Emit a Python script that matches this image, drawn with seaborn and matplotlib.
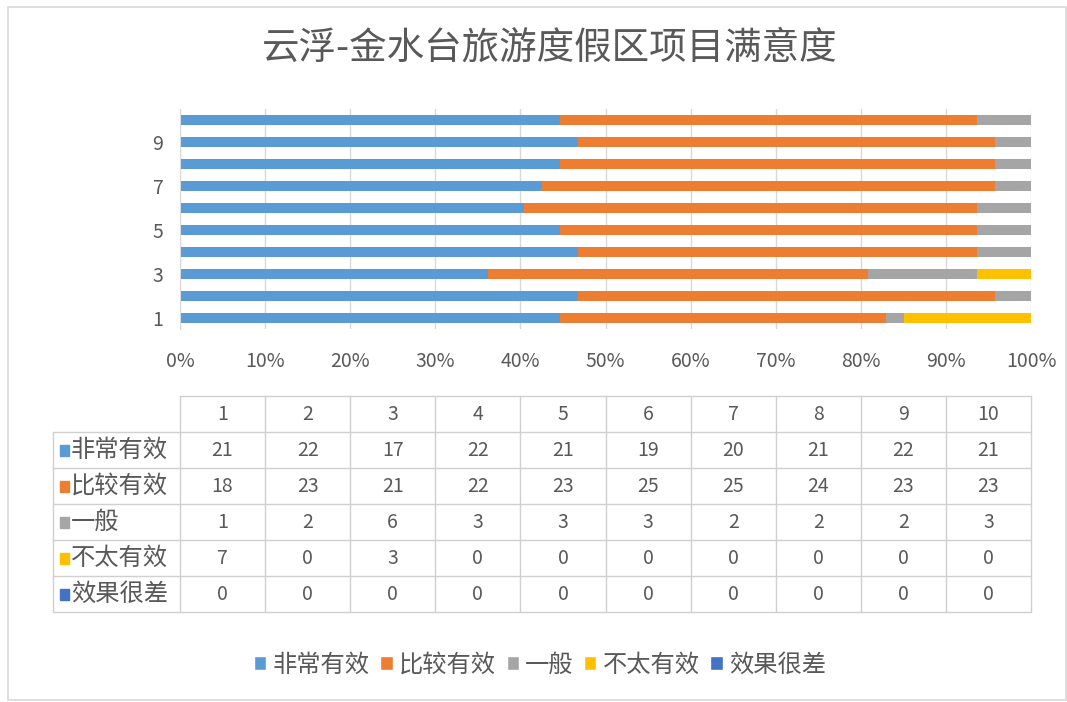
import pandas as pd
import seaborn as sns
import matplotlib.pyplot as plt
from matplotlib.patches import Patch, Rectangle

projects = ["1", "2", "3", "4", "5", "6", "7", "8", "9", "10"]
series_names = ["非常有效", "比较有效", "一般", "不太有效", "效果很差"]
very_effective = [21, 22, 17, 22, 21, 19, 20, 21, 22, 21]
fairly_effective = [18, 23, 21, 22, 23, 25, 25, 24, 23, 23]
average = [1, 2, 6, 3, 3, 3, 2, 2, 2, 3]
not_very_effective = [7, 0, 3, 0, 0, 0, 0, 0, 0, 0]
very_poor = [0, 0, 0, 0, 0, 0, 0, 0, 0, 0]
pct_ticks = ["0%", "10%", "20%", "30%", "40%", "50%", "60%", "70%", "80%", "90%", "100%"]

colors = ["#5B9BD5", "#ED7D31", "#A5A5A5", "#FFC000", "#4472C4"]
text_gray = "#595959"
line_gray = "#D9D9D9"

sns.set_style("white")
plt.rcParams["font.family"] = ["Noto Sans CJK SC", "DejaVu Sans"]

df = pd.DataFrame({"项目": projects,
                   series_names[0]: very_effective,
                   series_names[1]: fairly_effective,
                   series_names[2]: average,
                   series_names[3]: not_very_effective,
                   series_names[4]: very_poor})
totals = df[series_names].sum(axis=1)
cum = df[series_names].cumsum(axis=1).div(totals, axis=0) * 100
cum["项目"] = df["项目"]

fig = plt.figure(figsize=(10.67, 7.02), dpi=100)
fig.patches.append(Rectangle((8 / 1067, 2 / 702), 1 - 9 / 1067, 1 - 9 / 702,
                             transform=fig.transFigure, fill=False,
                             edgecolor=line_gray, linewidth=1.2))

# main 100% stacked bar chart
ax = fig.add_axes([180 / 1067, 1 - 329 / 702, 851 / 1067, 220 / 702])
order = projects[::-1]
for name, c in reversed(list(zip(series_names, colors))):
    sns.barplot(data=cum, x=name, y="项目", order=order, color=c, width=0.45,
                linewidth=0, errorbar=None, orient="h", ax=ax, saturation=1)

ax.set_xlim(0, 100)
ax.set_ylim(9.5, -0.5)
ax.set_xticks(range(0, 101, 10))
ax.set_xticklabels(pct_ticks)
ax.set_yticks(range(10))
ax.set_yticklabels([p if int(p) % 2 == 1 else "" for p in order])
ax.set_xlabel("")
ax.set_ylabel("")
ax.grid(axis="x", color=line_gray, linewidth=1)
ax.set_axisbelow(True)
for s in ["top", "right", "bottom"]:
    ax.spines[s].set_visible(False)
ax.spines["left"].set_color(line_gray)
ax.tick_params(axis="both", length=0, labelsize=14, labelcolor=text_gray)
ax.tick_params(axis="x", pad=16)
ax.tick_params(axis="y", pad=12)

fig.text(550 / 1067, 1 - 48 / 702, "云浮-金水台旅游度假区项目满意度", ha="center", va="center",
         fontsize=27, color=text_gray)

# data table under the chart
tab = fig.add_axes([180 / 1067, 1 - 612 / 702, 851 / 1067, 216 / 702])
tab.set_xlim(0, 100)
tab.set_ylim(6, 0)
tab.axis("off")
label_left = -14.9
rows = [very_effective, fairly_effective, average, not_very_effective, very_poor]
lk = dict(color="#D0D0D0", linewidth=1, clip_on=False)
tab.plot([0, 100], [0, 0], **lk)
for r in range(1, 7):
    tab.plot([label_left, 100], [r, r], **lk)
for cx in range(0, 101, 10):
    tab.plot([cx, cx], [0, 6], **lk)
tab.plot([label_left, label_left], [1, 6], **lk)
for i, p in enumerate(projects):
    tab.text(i * 10 + 5, 0.5, p, ha="center", va="center", fontsize=14, color=text_gray)
for r, (name, vals, c) in enumerate(zip(series_names, rows, colors), start=1):
    tab.add_patch(Rectangle((label_left + 0.8, r + 0.36), 1.0, 0.3, color=c, clip_on=False))
    tab.text(label_left + 2.1, r + 0.5, name, ha="left", va="center", fontsize=17.5,
             color=text_gray, clip_on=False)
    for i, v in enumerate(vals):
        tab.text(i * 10 + 5, r + 0.5, str(v), ha="center", va="center",
                 fontsize=14, color=text_gray)

handles = [Patch(facecolor=c, label=n) for n, c in zip(series_names, colors)]
fig.legend(handles=handles, loc="center", bbox_to_anchor=(540 / 1067, 1 - 665 / 702),
           ncol=5, frameon=False, fontsize=17.5, handlelength=0.5, handleheight=0.5,
           handletextpad=0.25, columnspacing=0.45, labelcolor=text_gray)

fig.savefig("out.png", dpi=100)
